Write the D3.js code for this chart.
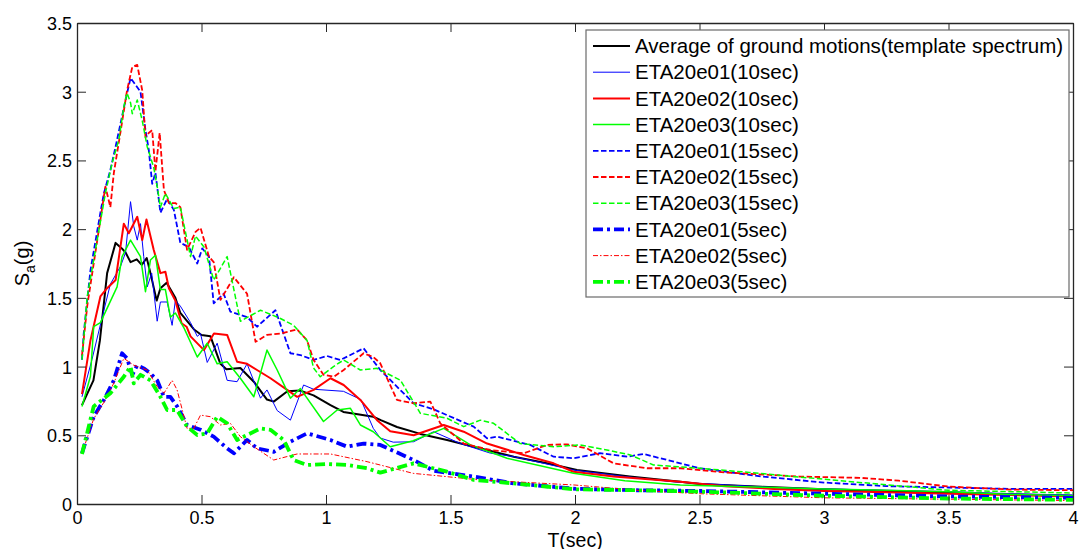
<!DOCTYPE html>
<html><head><meta charset="utf-8">
<script src="https://cdn.jsdelivr.net/npm/d3@7"></script>
<style>body{margin:0;background:#fff}svg{display:block;font-family:"Liberation Sans",Arial,sans-serif}</style>
</head><body><svg id="c" width="1080" height="549"></svg>
<script>
const xTicks=[0,0.5,1,1.5,2,2.5,3,3.5,4];
const yTicks=[0,0.5,1,1.5,2,2.5,3,3.5];
const seriesNames=["Average of ground motions(template spectrum)","ETA20e01(10sec)","ETA20e02(10sec)","ETA20e03(10sec)","ETA20e01(15sec)","ETA20e02(15sec)","ETA20e03(15sec)","ETA20e01(5sec)","ETA20e02(5sec)","ETA20e03(5sec)"];

const avgT=[0.02,0.066,0.092,0.121,0.155,0.18,0.195,0.215,0.24,0.26,0.28,0.295,0.32,0.335,0.36,0.395,0.415,0.47,0.5,0.536,0.576,0.6,0.656,0.71,0.763,0.79,0.845,0.897,0.95,1.018,1.07,1.14,1.19,1.22,1.285,1.379,1.486,1.593,1.754,1.888,2.008,2.22,2.423,2.5,2.75,3.0,3.25,3.5,3.75,4.0];
const avgSa=[0.72,0.90,1.19,1.68,1.90,1.86,1.83,1.76,1.78,1.74,1.79,1.68,1.48,1.57,1.61,1.50,1.39,1.27,1.23,1.22,1.02,0.98,0.99,0.89,0.76,0.745,0.82,0.825,0.79,0.72,0.67,0.65,0.635,0.61,0.56,0.51,0.466,0.417,0.344,0.296,0.247,0.2,0.162,0.146,0.125,0.107,0.095,0.083,0.07,0.06];

const e01_10T=[0.02,0.06,0.1,0.134,0.175,0.195,0.215,0.228,0.242,0.255,0.268,0.282,0.30,0.322,0.335,0.362,0.382,0.395,0.415,0.456,0.483,0.496,0.523,0.563,0.603,0.643,0.683,0.737,0.763,0.804,0.857,0.91,0.95,1.07,1.14,1.19,1.218,1.27,1.352,1.432,1.54,1.66,1.753,1.995,2.2,2.4,2.6,2.8,3.0,3.25,3.5,3.75,4.0];
const e01_10Sa=[0.78,1.05,1.35,1.6,1.73,1.83,2.2,2.02,1.92,2.04,1.8,1.58,1.68,1.33,1.47,1.47,1.30,1.48,1.44,1.32,1.22,1.24,1.03,1.17,0.90,0.89,1.02,0.77,0.83,0.68,0.61,0.866,0.835,0.82,0.76,0.55,0.48,0.45,0.453,0.526,0.44,0.37,0.345,0.247,0.2,0.16,0.14,0.12,0.11,0.1,0.09,0.075,0.065];

const e02_10T=[0.02,0.054,0.094,0.121,0.155,0.188,0.208,0.242,0.262,0.279,0.308,0.335,0.355,0.369,0.395,0.42,0.44,0.456,0.51,0.55,0.603,0.643,0.683,0.723,0.777,0.844,0.884,0.95,1.018,1.071,1.138,1.205,1.258,1.352,1.473,1.553,1.647,1.794,1.914,1.994,2.155,2.423,2.6,2.8,3.0,3.25,3.5,3.75,4.0];
const e02_10Sa=[0.80,1.19,1.51,1.57,1.63,2.04,1.97,2.09,1.92,2.07,1.85,1.68,1.69,1.57,1.48,1.315,1.29,1.22,1.12,1.24,1.23,1.035,1.02,0.975,0.915,0.83,0.78,0.83,0.915,0.866,0.757,0.61,0.53,0.50,0.575,0.526,0.44,0.357,0.296,0.235,0.2,0.162,0.13,0.11,0.095,0.085,0.075,0.065,0.055];

const e03_10T=[0.02,0.054,0.067,0.094,0.161,0.181,0.215,0.255,0.275,0.295,0.315,0.335,0.355,0.375,0.395,0.43,0.483,0.523,0.563,0.603,0.656,0.71,0.763,0.804,0.857,0.897,0.99,1.045,1.098,1.138,1.19,1.258,1.35,1.473,1.58,1.727,1.994,2.2,2.423,2.6,2.8,3.0,3.25,3.5,3.75,4.0];
const e03_10Sa=[0.71,0.93,1.29,1.32,1.58,1.80,1.92,1.80,1.545,1.776,1.81,1.56,1.56,1.36,1.39,1.28,1.07,1.17,1.02,1.035,0.915,0.78,1.12,0.975,0.77,0.84,0.60,0.684,0.696,0.575,0.526,0.417,0.46,0.55,0.43,0.333,0.223,0.17,0.138,0.13,0.12,0.11,0.1,0.09,0.07,0.06];

const e01_15T=[0.02,0.027,0.054,0.094,0.108,0.134,0.155,0.175,0.195,0.215,0.235,0.255,0.275,0.288,0.302,0.315,0.335,0.362,0.389,0.415,0.449,0.483,0.503,0.53,0.549,0.589,0.616,0.683,0.723,0.797,0.857,0.897,0.95,1.004,1.058,1.151,1.218,1.352,1.432,1.593,1.647,1.687,1.82,1.914,1.994,2.10,2.21,2.275,2.423,2.5,2.75,3.0,3.25,3.5,3.75,4.0];
const e01_15Sa=[1.05,1.24,1.70,2.12,2.26,2.43,2.60,2.77,2.94,3.10,3.05,3.0,2.72,2.58,2.33,2.41,2.12,2.22,2.14,1.90,1.87,1.75,1.86,1.80,1.46,1.53,1.40,1.36,1.29,1.41,1.097,1.084,1.048,1.077,1.048,1.133,0.975,0.733,0.689,0.563,0.478,0.49,0.43,0.344,0.333,0.37,0.344,0.364,0.296,0.26,0.2,0.156,0.13,0.12,0.11,0.11];

const e02_15T=[0.02,0.041,0.094,0.114,0.134,0.148,0.175,0.201,0.222,0.242,0.262,0.275,0.288,0.302,0.315,0.332,0.349,0.369,0.395,0.415,0.442,0.476,0.496,0.53,0.549,0.576,0.63,0.683,0.717,0.763,0.817,0.884,0.924,0.95,0.99,1.031,1.071,1.151,1.19,1.218,1.285,1.352,1.419,1.459,1.553,1.66,1.794,1.888,1.968,2.048,2.155,2.289,2.423,2.6,2.9,3.15,3.3,3.5,3.75,4.0];
const e02_15Sa=[1.08,1.44,2.07,2.31,2.16,2.41,2.71,3.01,3.18,3.195,3.01,2.67,2.70,2.72,2.42,2.70,2.285,2.19,2.19,2.16,1.85,1.98,2.01,1.80,1.76,1.485,1.65,1.53,1.18,1.23,1.24,1.27,1.19,1.048,0.94,0.926,0.975,1.097,1.07,1.024,0.757,0.733,0.745,0.587,0.44,0.393,0.369,0.43,0.434,0.405,0.296,0.26,0.26,0.23,0.2,0.19,0.17,0.127,0.105,0.1];

const e03_15T=[0.02,0.041,0.081,0.114,0.141,0.168,0.188,0.201,0.215,0.222,0.242,0.262,0.282,0.308,0.322,0.335,0.355,0.389,0.415,0.456,0.476,0.51,0.549,0.603,0.656,0.737,0.817,0.87,0.924,0.95,0.977,1.03,1.071,1.138,1.205,1.299,1.379,1.486,1.553,1.62,1.673,1.78,1.914,2.021,2.128,2.222,2.315,2.423,2.5,2.7,3.0,3.25,3.5,3.75,4.0];
const e03_15Sa=[1.05,1.51,1.92,2.26,2.48,2.65,2.89,2.99,2.92,2.84,2.94,2.79,2.60,2.45,2.31,2.16,2.26,2.15,2.16,1.80,1.95,1.87,1.63,1.80,1.33,1.41,1.35,1.30,1.19,0.99,0.926,1.0,1.048,0.975,0.987,0.90,0.66,0.624,0.563,0.61,0.587,0.44,0.417,0.43,0.393,0.357,0.284,0.27,0.26,0.23,0.18,0.14,0.1,0.09,0.08];

const e01_5T=[0.02,0.067,0.108,0.148,0.181,0.201,0.222,0.242,0.268,0.295,0.322,0.349,0.375,0.402,0.442,0.496,0.549,0.603,0.63,0.683,0.723,0.79,0.857,0.924,1.018,1.085,1.151,1.218,1.352,1.432,1.593,1.754,2.008,2.25,2.5,2.75,3.0,3.25,3.5,3.75,4.0];
const e01_5Sa=[0.369,0.635,0.757,0.90,1.097,1.06,0.94,1.01,0.987,0.95,0.90,0.78,0.78,0.71,0.575,0.54,0.49,0.405,0.369,0.466,0.405,0.38,0.453,0.514,0.466,0.417,0.44,0.43,0.32,0.242,0.2,0.15,0.11,0.1,0.095,0.085,0.075,0.065,0.055,0.05,0.045];

const e02_5T=[0.02,0.067,0.108,0.148,0.188,0.228,0.282,0.322,0.349,0.382,0.402,0.442,0.469,0.496,0.536,0.576,0.616,0.656,0.71,0.79,0.884,1.018,1.165,1.35,1.62,2.0,2.25,2.5,2.75,3.0,3.25,3.5,3.75,4.0];
const e02_5Sa=[0.369,0.62,0.74,0.88,1.06,1.01,0.975,0.854,0.806,0.90,0.83,0.55,0.55,0.647,0.635,0.575,0.587,0.49,0.417,0.32,0.364,0.364,0.308,0.223,0.175,0.138,0.1,0.075,0.06,0.045,0.04,0.035,0.03,0.025];

const e03_5T=[0.02,0.067,0.134,0.188,0.215,0.228,0.255,0.295,0.335,0.362,0.402,0.442,0.483,0.523,0.563,0.603,0.643,0.683,0.737,0.777,0.83,0.87,0.924,1.004,1.085,1.165,1.218,1.352,1.486,1.593,1.754,2.0,2.25,2.5,2.75,3.0,3.25,3.5,3.75,4.0];
const e03_5Sa=[0.364,0.71,0.806,0.926,1.0,0.878,0.94,0.90,0.78,0.684,0.684,0.563,0.502,0.514,0.635,0.587,0.466,0.502,0.55,0.54,0.466,0.32,0.284,0.291,0.284,0.26,0.228,0.296,0.235,0.175,0.15,0.107,0.1,0.09,0.075,0.06,0.05,0.04,0.035,0.03];

const styles=[
 {c:"#000000",w:2,d:null},
 {c:"#0000ff",w:1,d:null},
 {c:"#ff0000",w:2,d:null},
 {c:"#00ff00",w:1.5,d:null},
 {c:"#0000ff",w:1.8,d:"5.5,2.5"},
 {c:"#ff0000",w:1.8,d:"5.5,2.5"},
 {c:"#00ff00",w:1.5,d:"5.5,2.5"},
 {c:"#0000ff",w:3.8,d:"10,4,3,4"},
 {c:"#ff0000",w:1,d:"5,2,1.5,2"},
 {c:"#00ff00",w:3.8,d:"10,4,3,4"}
];
const data=[[avgT,avgSa],[e01_10T,e01_10Sa],[e02_10T,e02_10Sa],[e03_10T,e03_10Sa],[e01_15T,e01_15Sa],[e02_15T,e02_15Sa],[e03_15T,e03_15Sa],[e01_5T,e01_5Sa],[e02_5T,e02_5Sa],[e03_5T,e03_5Sa]];

const L=77,R=1073,T=23,B=504;
const x=d3.scaleLinear().domain([0,4]).range([L,R]);
const y=d3.scaleLinear().domain([0,3.5]).range([B,T]);
const svg=d3.select("#c");
const ax="#262626";

svg.append("clipPath").attr("id","cp").append("rect").attr("x",L).attr("y",T).attr("width",R-L).attr("height",B-T);
const line=d3.line().x(d=>x(d[0])).y(d=>y(d[1]));
const g=svg.append("g").attr("clip-path","url(#cp)");
data.forEach((s,i)=>{
  const pts=s[0].map((t,j)=>[t,s[1][j]]);
  g.append("path").datum(pts).attr("d",line).attr("fill","none")
   .attr("stroke",styles[i].c).attr("stroke-width",styles[i].w)
   .attr("stroke-dasharray",styles[i].d).attr("stroke-linejoin","round");
});

// axes
const fs=18;
const xa=svg.append("g").attr("transform",`translate(0,${B})`).call(d3.axisBottom(x).tickValues(xTicks).tickFormat(d3.format("")).tickSizeInner(-9).tickSizeOuter(0).tickPadding(7));
const ya=svg.append("g").attr("transform",`translate(${L},0)`).call(d3.axisLeft(y).tickValues(yTicks).tickFormat(d3.format("")).tickSizeInner(-9).tickSizeOuter(0).tickPadding(5));
const xt=svg.append("g").attr("transform",`translate(0,${T})`).call(d3.axisTop(x).tickValues(xTicks).tickFormat("").tickSizeInner(-9).tickSizeOuter(0));
const yr=svg.append("g").attr("transform",`translate(${R},0)`).call(d3.axisRight(y).tickValues(yTicks).tickFormat("").tickSizeInner(-9).tickSizeOuter(0));
[xa,ya,xt,yr].forEach(a=>{a.selectAll("path").attr("stroke",ax).attr("stroke-width",1.3);a.selectAll("line").attr("stroke",ax);a.selectAll("text").attr("fill","#000").attr("font-size",fs).attr("font-family","Liberation Sans, Arial, sans-serif");});
xa.selectAll("text").attr("dy","0.74em");
ya.selectAll("text").attr("dy","0.36em");

svg.append("text").attr("x",x(2)).attr("y",546.5).attr("text-anchor","middle").attr("font-size",19.5).text("T(sec)");
const yl=svg.append("text").attr("transform",`translate(29,${(T+B)/2}) rotate(-90)`).attr("text-anchor","middle").attr("font-size",20);
yl.append("tspan").text("S");
yl.append("tspan").attr("font-size",14).attr("dy",6).text("a");
yl.append("tspan").attr("dy",-6).text("(g)");

// legend
const lg=svg.append("g");
lg.append("rect").attr("x",586).attr("y",30).attr("width",483).attr("height",267).attr("fill","#fff").attr("stroke","#6a6a6a").attr("stroke-width",1.2);
seriesNames.forEach((n,i)=>{
  const yy=46+i*26.2;
  lg.append("line").attr("x1",593).attr("x2",630).attr("y1",yy).attr("y2",yy)
   .attr("stroke",styles[i].c).attr("stroke-width",styles[i].w).attr("stroke-dasharray",styles[i].d);
  lg.append("text").attr("x",635).attr("y",yy).attr("dy","0.35em").attr("font-size",20.5).attr("fill","#000").text(n);
});
</script></body></html>
